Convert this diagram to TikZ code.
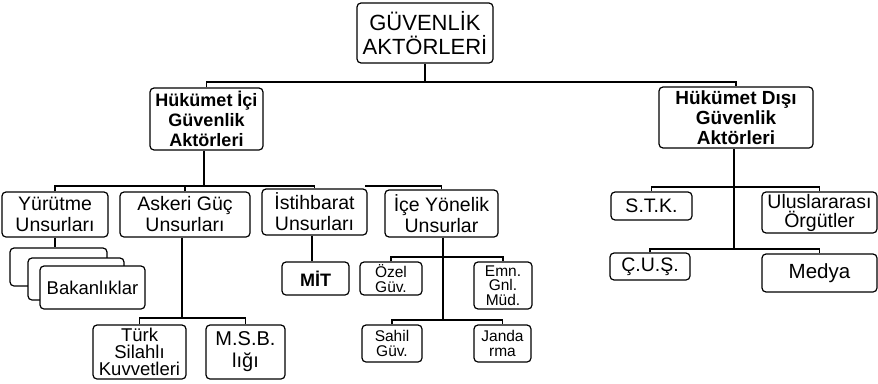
\documentclass[tikz,border=0pt]{standalone}
\usepackage{fontspec}
\setmainfont{Liberation Sans}
\usetikzlibrary{positioning}
\newcommand{\fsz}[2]{\fontsize{#1}{#2}\selectfont}
\tikzset{
  box/.style={draw, rounded corners=4pt, line width=1.2pt, align=center, inner sep=0pt, fill=white},
  link/.style={line width=1.2pt}
}
\begin{document}
\begin{tikzpicture}[x=1pt,y=-1pt]
  \useasboundingbox (0,0) rectangle (878,383);
  % top level
  \node[box, minimum width=136, minimum height=60, font=\fsz{22}{24}] (top) at (425,33) {GÜVENLİK\\AKTÖRLERİ};
  \node[box, minimum width=113, minimum height=62, font=\fsz{18}{20}\bfseries] (hic) at (206.5,119) {Hükümet İçi\\Güvenlik\\Aktörleri};
  \node[box, minimum width=154, minimum height=61, font=\fsz{19}{20}\bfseries] (hdis) at (736,117.5) {Hükümet Dışı\\Güvenlik\\Aktörleri};
  % second row
  \node[box, minimum width=106, minimum height=45, font=\fsz{19.5}{21}] (yur) at (55,214.5) {Yürütme\\Unsurları};
  \node[box, minimum width=130, minimum height=45, font=\fsz{19.5}{21}] (ask) at (185,214.5) {Askeri Güç\\Unsurları};
  \node[box, minimum width=105, minimum height=46, font=\fsz{19.5}{21}] (ist) at (314.5,212) {İstihbarat\\Unsurları};
  \node[box, minimum width=113, minimum height=47, font=\fsz{19.5}{21}] (ice) at (441.5,213.5) {İçe Yönelik\\Unsurlar};
  % bakanliklar stack
  \node[box, minimum width=97, minimum height=38] (bak3) at (58.5,267) {};
  \node[box, minimum width=96, minimum height=42] (bak2) at (76,279) {};
  \node[box, minimum width=105, minimum height=43, font=\fsz{18.5}{20}] (bak) at (92.5,287.5) {Bakanlıklar};
  % askeri
  \node[box, minimum width=93, minimum height=54, font=\fsz{18.5}{17}] (tsk) at (139.5,352) {Türk\\Silahlı\\Kuvvetleri};
  \node[box, minimum width=79, minimum height=54, font=\fsz{20}{22}] (msb) at (245.5,352) {M.S.B.\\lığı};
  % istihbarat
  \node[box, minimum width=67, minimum height=33, font=\fsz{18}{20}\bfseries] (mit) at (315.5,278.5) {MİT};
  % ice yonelik
  \node[box, minimum width=62, minimum height=33, font=\fsz{15.5}{14.5}] (ozel) at (391,278.5) {Özel\\Güv.};
  \node[box, minimum width=58, minimum height=47, font=\fsz{15.5}{14.5}] (emn) at (503,285.5) {Emn.\\Gnl.\\Müd.};
  \node[box, minimum width=60, minimum height=37, font=\fsz{15.5}{14.5}] (sahil) at (392,343.5) {Sahil\\Güv.};
  \node[box, minimum width=57, minimum height=37, font=\fsz{15.5}{14.5}] (jand) at (502.5,343.5) {Janda\\rma};
  % hukumet disi
  \node[box, minimum width=81, minimum height=28, font=\fsz{19.5}{21}] (stk) at (651.5,206) {S.T.K.};
  \node[box, minimum width=115, minimum height=41, font=\fsz{19.5}{19}] (ulus) at (819.5,212.5) {Uluslararası\\Örgütler};
  \node[box, minimum width=80, minimum height=27, font=\fsz{19.5}{21}] (cus) at (650,266.5) {Ç.U.Ş.};
  \node[box, minimum width=115, minimum height=38, font=\fsz{20.5}{21}] (medya) at (819.5,273) {Medya};

  % junctions
  \coordinate (j0) at (425,82);
  \coordinate (j1) at (204,186);
  \coordinate (j2) at (365,186);
  \coordinate (ja) at (182,318);
  \coordinate (ji1) at (443,257);
  \coordinate (ji2) at (443,320);
  \coordinate (jh1) at (734,187);
  \coordinate (jh2) at (734,249);

  \draw[link] (top) -- (j0);
  \draw[link] (hic.north) |- (j0) -| (hdis.north);
  \draw[link] (hic.south -| j1) -- (j1);
  \draw[link] (yur.north) |- (j1) -| (ist.north);
  \draw[link] (ask.north) -- (ask.north |- j1);
  \draw[link] (ice.north) |- (j2);
  \draw[link] (yur.south) -- (bak3.north -| yur.south);
  \draw[link] (ask.south -| ja) -- (ja);
  \draw[link] (tsk.north) |- (ja) -| (msb.north);
  \draw[link] (ist.south -| 312,0) -- (mit.north -| 312,0);
  \draw[link] (ice.south -| ji1) -- (ji2);
  \draw[link] (ozel.north) |- (ji1) -| (emn.north);
  \draw[link] (sahil.north) |- (ji2) -| (jand.north);
  \draw[link] (hdis.south -| jh1) -- (jh2);
  \draw[link] (stk.north) |- (jh1) -| (ulus.north);
  \draw[link] (cus.north) |- (jh2) -| (medya.north);
\end{tikzpicture}
\end{document}
